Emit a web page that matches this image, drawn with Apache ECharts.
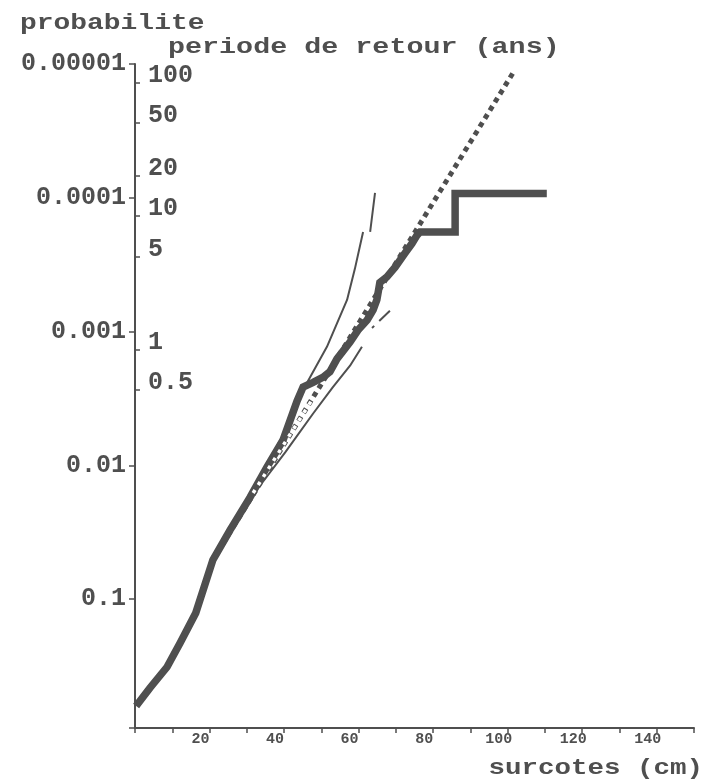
<!DOCTYPE html>
<html>
<head>
<meta charset="utf-8">
<title>surcotes</title>
<script src="https://cdn.jsdelivr.net/npm/echarts@6.0.0/dist/echarts.min.js"></script>
<style>
  html, body { margin: 0; padding: 0; background: #fff; }
  #chart { width: 705px; height: 780px; }
</style>
</head>
<body>
<div id="chart"></div>
<script>
// courbe empirique (trait epais)
const surcote = [0.3, 4.0, 8.6, 12.1, 16.3, 20.9, 25.5, 30.9, 35.4, 39.7, 43.5, 45.1, 47.8, 50.4, 52.3, 54.2,
  57.7, 59.8, 62.3, 63.9, 64.9, 65.7, 67.6, 69.8, 72.4, 74.3, 75.7, 76.5, 85.9, 85.9, 110.5];
const probaEmp = [0.631, 0.462, 0.322, 0.213, 0.127, 0.051, 0.0305, 0.0173, 0.0103, 0.0065, 0.0033, 0.0026, 0.0024, 0.0022, 0.0020, 0.0016,
  0.0012, 0.00098, 0.00082, 0.00069, 0.00058, 0.00043, 0.00039, 0.00033, 0.00026, 0.00022, 0.00019, 0.00018, 0.00018, 0.000093, 0.000093];

// loi ajustee (pointilles)
const loiX = [20.9, 101.9];
const loiProba = [0.051, 0.0000111];
// partie de la loi vue en blanc dans le trait epais
const loiBlancX = [31.7, 47.8];
const loiBlancProba = [0.0161, 0.00314];

// bornes de confiance (traits fins)
const bSupX = [20.9, 30.9, 36.2, 40.8, 46.2, 51.5, 56.9, 59.0, 61.2];
const bSupProba = [0.051, 0.0173, 0.0091, 0.0052, 0.0024, 0.0013, 0.00058, 0.00034, 0.00018];
const bSupSuiteX = [63.1, 64.4];
const bSupSuiteProba = [0.00018, 0.000092];
const bInfX = [20.9, 32.2, 40.3, 47.8, 53.1, 57.7, 60.9];
const bInfProba = [0.051, 0.0159, 0.0080, 0.0041, 0.0026, 0.0018, 0.0013];
const bInfSuiteX = [63.6, 68.4];
const bInfSuiteProba = [0.00094, 0.00070];

// graduations
const probaLabels = ['0.00001', '0.0001', '0.001', '0.01', '0.1'];
const periodeTicks = [100, 50, 20, 10, 5, 1, 0.5];
const xLabels = [20, 40, 60, 80, 100, 120, 140];

const probaMin = 0.00001, probaMax = 0.92;
const tauxAnnuel = 1 / 730; // p * T (2 marees par jour)

const gris = '#4f4f4f';
const police = '"Liberation Mono", "Courier New", monospace';

const paires = (xs, ys) => xs.map((x, i) => [x, ys[i]]);

// titres un peu etires en largeur comme sur l'original
const titre = (texte, x, y, align, etirement) => ({
  type: 'text',
  x: x,
  y: y,
  scaleX: etirement,
  style: {
    text: texte,
    font: 'bold 22px ' + police,
    fill: gris,
    align: align,
    verticalAlign: 'middle'
  }
});

const chart = echarts.init(document.getElementById('chart'));
const option = {
  animation: false,
  backgroundColor: '#fff',
  graphic: [
    titre('probabilite', 20, 23, 'left', 1.27),
    titre('periode de retour (ans)', 168, 47, 'left', 1.29),
    titre('surcotes (cm)', 703, 768, 'right', 1.25)
  ],
  grid: { left: 135, right: 11, top: 64, bottom: 52 },
  xAxis: {
    type: 'value',
    min: 0,
    max: 150,
    interval: 10,
    splitLine: { show: false },
    axisLine: { onZero: false, lineStyle: { color: gris, width: 2 } },
    axisTick: { length: 5, lineStyle: { color: gris, width: 1.5 } },
    axisLabel: {
      margin: 4,
      fontFamily: police,
      fontSize: 15,
      fontWeight: 'bold',
      color: gris,
      padding: [0, 18, 0, 0],
      showMinLabel: true,
      showMaxLabel: true,
      formatter: v => xLabels.indexOf(v) >= 0 ? String(v) : ''
    }
  },
  yAxis: [
    {
      type: 'log',
      logBase: 10,
      min: probaMin,
      max: probaMax,
      inverse: true,
      splitLine: { show: false },
      axisLine: { show: true, onZero: false, lineStyle: { color: gris, width: 2 } },
      axisTick: { length: 6, lineStyle: { color: gris, width: 1.5 } },
      axisLabel: {
        margin: 9,
        fontFamily: police,
        fontSize: 25,
        fontWeight: 'bold',
        color: gris,
        formatter: v => {
          const e = Math.log10(v);
          if (Math.abs(e - Math.round(e)) > 0.01) return '';
          const i = Math.round(e) + 5;
          return probaLabels[i] || '';
        }
      }
    },
    {
      // periode de retour, graduee en log10(ans)
      type: 'value',
      min: Math.log10(tauxAnnuel / probaMax),
      max: Math.log10(tauxAnnuel / probaMin),
      position: 'left',
      splitLine: { show: false },
      axisLine: { show: false, onZero: false },
      axisTick: {
        inside: true,
        length: 5,
        lineStyle: { color: gris, width: 1.5 },
        customValues: periodeTicks.map(t => Math.log10(t))
      },
      axisLabel: {
        inside: true,
        margin: 13,
        fontFamily: police,
        fontSize: 25,
        fontWeight: 'bold',
        color: gris,
        verticalAlign: 'bottom',
        lineHeight: 14,
        customValues: periodeTicks.map(t => Math.log10(t)),
        formatter: v => {
          const t = periodeTicks.find(t => Math.abs(Math.log10(t) - v) < 1e-6);
          return t === undefined ? '' : String(t);
        }
      }
    }
  ],
  series: [
    {
      name: 'loi',
      type: 'line',
      symbol: 'none',
      data: paires(loiX, loiProba),
      lineStyle: { color: gris, width: 5, type: [5, 4.6], cap: 'butt' }
    },
    {
      name: 'borne sup',
      type: 'line',
      symbol: 'none',
      data: paires(bSupX, bSupProba),
      lineStyle: { color: gris, width: 2 }
    },
    {
      name: 'borne sup suite',
      type: 'line',
      symbol: 'none',
      data: paires(bSupSuiteX, bSupSuiteProba),
      lineStyle: { color: gris, width: 2 }
    },
    {
      name: 'borne inf',
      type: 'line',
      symbol: 'none',
      data: paires(bInfX, bInfProba),
      lineStyle: { color: gris, width: 2 }
    },
    {
      name: 'borne inf suite',
      type: 'line',
      symbol: 'none',
      data: paires(bInfSuiteX, bInfSuiteProba),
      lineStyle: { color: gris, width: 2, type: [3, 7, 15, 10] }
    },
    {
      name: 'empirique',
      type: 'line',
      symbol: 'none',
      data: paires(surcote, probaEmp),
      lineStyle: { color: gris, width: 7.5, join: 'miter' }
    },
    {
      name: 'loi (blanc)',
      type: 'line',
      symbol: 'none',
      data: paires(loiBlancX, loiBlancProba),
      lineStyle: { color: '#fff', width: 3.5, type: [3.5, 6], cap: 'butt' }
    }
  ]
};
chart.setOption(option);
</script>
</body>
</html>
